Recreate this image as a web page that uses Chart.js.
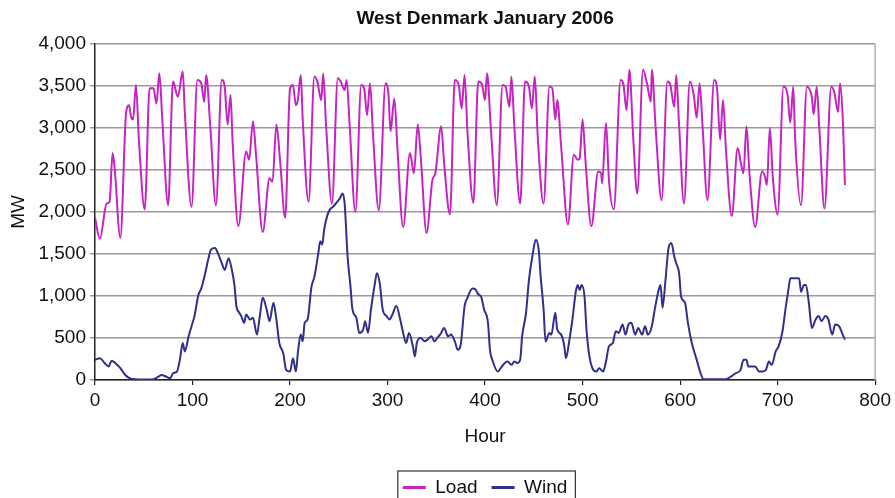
<!DOCTYPE html>
<html lang="en">
<head>
  <meta charset="UTF-8" />
  <title>West Denmark January 2006</title>
  <script src="https://cdn.jsdelivr.net/npm/chart.js"></script>
  <style>
    html, body { margin: 0; padding: 0; background: #fff; }
    #wrap { width: 895px; height: 498px; }
  </style>
</head>
<body>
  <div id="wrap"><canvas id="chart" width="895" height="498"></canvas></div>

  <script>
    // hourly load, West Denmark, Jan 2006 (turning points of the daily cycle)
    const loadHours = [0, 5, 12, 15, 18, 20, 26, 32, 35, 37, 39, 42, 45, 51, 56, 60, 63, 66, 69, 75, 80, 85, 90, 92, 99,
      105, 109, 112, 114, 118, 124, 130, 133, 136, 139, 141, 147, 155, 158, 162, 165, 172, 179, 182, 186, 190, 195,
      200, 203, 206, 208, 211, 213, 219, 225, 228, 232, 234, 237, 243, 249, 252, 256, 258, 261, 267, 273, 276, 279,
      282, 285, 291, 298, 301, 303, 307, 310, 316, 323, 327, 331, 334, 340, 346, 349, 355, 358, 364, 369, 373, 376,
      379, 382, 388, 393, 397, 400, 402, 406, 412, 418, 421, 425, 427, 430, 436, 441, 445, 448, 451, 454, 460, 466,
      469, 472, 474, 478, 485, 491, 495, 497, 500, 503, 509, 516, 519, 520, 524, 527, 532, 539, 542, 545, 548, 552,
      556, 562, 566, 570, 571, 575, 581, 587, 590, 594, 596, 599, 604, 610, 614, 617, 620, 623, 628, 635, 638, 641,
      644, 647, 653, 659, 663, 665, 668, 671, 677, 684, 687, 689, 692, 695, 700, 706, 710, 713, 716, 718, 724, 730,
      735, 737, 740, 743, 748, 755, 758, 762, 764, 767, 769];
    const loadMW = [1930, 1680, 2100, 2120, 2700, 2540, 1690, 3190, 3270, 3130, 3100, 3510, 2860, 2030, 3470, 3470, 3290,
      3650, 3100, 2080, 3550, 3370, 3670, 3210, 2060, 3570, 3530, 3310, 3630, 3060, 2080, 3570, 3490, 3040, 3390, 2860,
      1830, 2720, 2620, 3080, 2700, 1760, 2400, 2360, 3040, 2580, 1930, 3470, 3510, 3270, 3330, 3630, 3100, 2120, 3610,
      3550, 3330, 3650, 3020, 2100, 3590, 3550, 3450, 3570, 3060, 2000, 3510, 3470, 3150, 3530, 2940, 2020, 3530, 3390,
      2960, 3350, 2780, 1820, 2700, 2460, 3040, 2660, 1750, 2380, 2460, 3020, 2580, 1970, 3570, 3510, 3230, 3630, 2940,
      2110, 3550, 3510, 3330, 3650, 2980, 2080, 3510, 3490, 3250, 3610, 3020, 2100, 3550, 3490, 3230, 3610, 2900, 2100,
      3490, 3470, 3100, 3330, 2780, 1850, 2680, 2620, 2640, 3100, 2600, 1830, 2480, 2460, 2340, 3060, 2380, 2030, 3570,
      3510, 3210, 3690, 2860, 2220, 3690, 3530, 3310, 3690, 2980, 2140, 3550, 3510, 3250, 3630, 3020, 2100, 3550, 3390,
      3120, 3530, 3020, 2140, 3570, 3450, 2860, 3330, 2740, 1950, 2760, 2540, 2460, 3020, 2480, 1820, 2480, 2420, 2320,
      3000, 2420, 1970, 3490, 3410, 3060, 3490, 2860, 2080, 3490, 3370, 3160, 3490, 2940, 2040, 3490, 3430, 3190, 3530,
      3060, 2320];

    // hourly wind production
    const windHours = [0, 5, 10, 14, 17, 21, 26, 31, 36, 41, 49, 60, 65, 68, 73, 77, 80, 84, 87, 90, 92, 96, 99, 102,
      106, 109, 113, 116, 119, 123, 126, 130, 133, 137, 140, 143, 145, 148, 150, 153, 155, 159, 162, 166, 169, 172,
      176, 179, 183, 186, 189, 193, 196, 200, 203, 206, 208, 211, 213, 215, 218, 222, 225, 229, 231, 233, 235, 238,
      241, 244, 247, 251, 254, 256, 259, 262, 264, 268, 271, 275, 277, 280, 283, 287, 289, 292, 295, 299, 302, 305,
      309, 313, 316, 319, 322, 326, 328, 330, 334, 338, 341, 345, 348, 351, 355, 358, 362, 365, 369, 372, 375, 379,
      382, 387, 390, 393, 396, 399, 403, 405, 408, 413, 416, 420, 423, 427, 430, 433, 436, 438, 442, 445, 449, 452,
      455, 457, 460, 462, 466, 468, 472, 474, 478, 481, 483, 486, 490, 493, 495, 497, 499, 502, 504, 507, 510, 514,
      517, 521, 524, 527, 531, 534, 537, 541, 544, 547, 550, 554, 557, 561, 564, 567, 571, 574, 578, 580, 582, 585,
      588, 591, 594, 596, 599, 601, 605, 608, 612, 617, 621, 624, 633, 647, 652, 657, 662, 665, 668, 670, 674, 677,
      681, 684, 688, 691, 694, 698, 701, 705, 708, 711, 713, 718, 722, 724, 727, 729, 732, 735, 739, 742, 745, 749,
      752, 756, 759, 763, 766, 769];
    const windMW = [240, 260, 200, 160, 230, 200, 140, 60, 20, 10, 5, 10, 40, 60, 40, 20, 80, 100, 240, 440, 340, 520, 640,
      760, 1010, 1090, 1270, 1430, 1550, 1570, 1510, 1390, 1310, 1450, 1330, 1130, 880, 800, 760, 680, 780, 720, 740, 540,
      760, 980, 840, 700, 920, 720, 440, 320, 120, 100, 260, 100, 320, 540, 460, 680, 720, 1110, 1230, 1510, 1650, 1610,
      1790, 1950, 2030, 2060, 2100, 2160, 2220, 2100, 1470, 1110, 840, 740, 560, 600, 700, 560, 840, 1150, 1270, 1150,
      840, 760, 720, 780, 880, 720, 560, 440, 560, 400, 280, 440, 500, 460, 480, 520, 460, 500, 560, 620, 520, 540, 460,
      360, 420, 880, 980, 1090, 1080, 1020, 990, 840, 680, 360, 220, 100, 140, 200, 220, 180, 220, 200, 240, 520, 800,
      1190, 1510, 1670, 1550, 1230, 840, 460, 560, 540, 800, 600, 540, 420, 260, 440, 760, 1050, 1130, 1070, 1130, 990,
      600, 280, 140, 100, 140, 100, 220, 400, 440, 580, 560, 660, 540, 660, 680, 540, 620, 540, 640, 540, 640, 840, 1070,
      1130, 860, 1190, 1560, 1630, 1470, 1390, 1270, 990, 920, 680, 440, 240, 80, 10, 10, 10, 40, 80, 120, 240, 240, 160,
      160, 160, 100, 100, 120, 220, 180, 340, 400, 580, 840, 1070, 1210, 1210, 1210, 1050, 1130, 1130, 920, 620, 720,
      760, 700, 760, 720, 540, 660, 640, 560, 480];

    const loadColor = '#c624c2';
    const windColor = '#2f2f8c';

    const toPoints = (xs, ys) => xs.map((h, i) => ({ x: h, y: ys[i] }));

    // frame on the right edge of the plot and a box round the legend
    const framePlugin = {
      id: 'frame',
      beforeDatasetsDraw(chart) {
        const { ctx, chartArea } = chart;
        ctx.save();
        ctx.strokeStyle = '#b0b0b0';
        ctx.lineWidth = 1.5;
        ctx.beginPath();
        ctx.moveTo(chartArea.right, chartArea.top);
        ctx.lineTo(chartArea.right, chartArea.bottom);
        ctx.stroke();
        ctx.restore();
      },
      afterDraw(chart) {
        const boxes = chart.legend.legendHitBoxes;
        if (!boxes || !boxes.length) return;
        const left = Math.min(...boxes.map(b => b.left)) - 5;
        const right = Math.max(...boxes.map(b => b.left + b.width)) + 8;
        const top = Math.min(...boxes.map(b => b.top)) - 7;
        const ctx = chart.ctx;
        ctx.save();
        ctx.strokeStyle = '#333';
        ctx.lineWidth = 1.2;
        ctx.strokeRect(left, top, right - left, 45);
        ctx.restore();
      }
    };

    const font = { family: "'Liberation Sans', Arial, sans-serif", size: 19 };

    new Chart(document.getElementById('chart'), {
      type: 'line',
      data: {
        datasets: [
          { label: 'Load', data: toPoints(loadHours, loadMW), borderColor: loadColor, backgroundColor: loadColor, borderWidth: 2 },
          { label: 'Wind', data: toPoints(windHours, windMW), borderColor: windColor, backgroundColor: windColor, borderWidth: 2 }
        ]
      },
      options: {
        responsive: false,
        animation: false,
        layout: { padding: { left: 0, right: 19, top: 0, bottom: -9 } },
        elements: {
          point: { radius: 0 },
          line: { cubicInterpolationMode: 'monotone' }
        },
        plugins: {
          title: {
            display: true,
            text: 'West Denmark January 2006',
            fullSize: false,
            color: '#111',
            font: { family: font.family, size: 19, weight: 'bold' },
            padding: { top: 7, bottom: 14 }
          },
          legend: {
            position: 'bottom',
            fullSize: false,
            labels: {
              color: '#111',
              font: font,
              usePointStyle: true,
              pointStyle: 'line',
              pointStyleWidth: 23,
              padding: 14,
              // thicker line samples in the legend
              generateLabels: chart => Chart.defaults.plugins.legend.labels.generateLabels(chart)
                .map(item => Object.assign(item, { lineWidth: 3 }))
            }
          },
          tooltip: { enabled: false }
        },
        scales: {
          x: {
            type: 'linear',
            min: 0,
            max: 800,
            ticks: { stepSize: 100, color: '#111', font: font, padding: 4, maxRotation: 0 },
            grid: { drawOnChartArea: false, drawTicks: true, tickLength: 5, color: '#222', lineWidth: 1.2 },
            border: { display: true, color: '#222', width: 1.5 },
            title: { display: true, text: 'Hour', color: '#111', font: font, padding: { top: 8, bottom: 16 } },
            afterFit: s => { s.height = 84; }
          },
          y: {
            min: 0,
            max: 4000,
            ticks: { stepSize: 500, color: '#111', font: font, padding: 4, callback: v => v.toLocaleString('en-US') },
            grid: { color: '#9a9a9a', lineWidth: 1.5, tickLength: 5 },
            border: { display: true, color: '#222', width: 1.5 },
            title: { display: true, text: 'MW', color: '#111', font: font, padding: { top: 7, bottom: 0 } },
            afterFit: s => { s.width = 95; }
          }
        }
      },
      plugins: [framePlugin]
    });
  </script>
</body>
</html>
